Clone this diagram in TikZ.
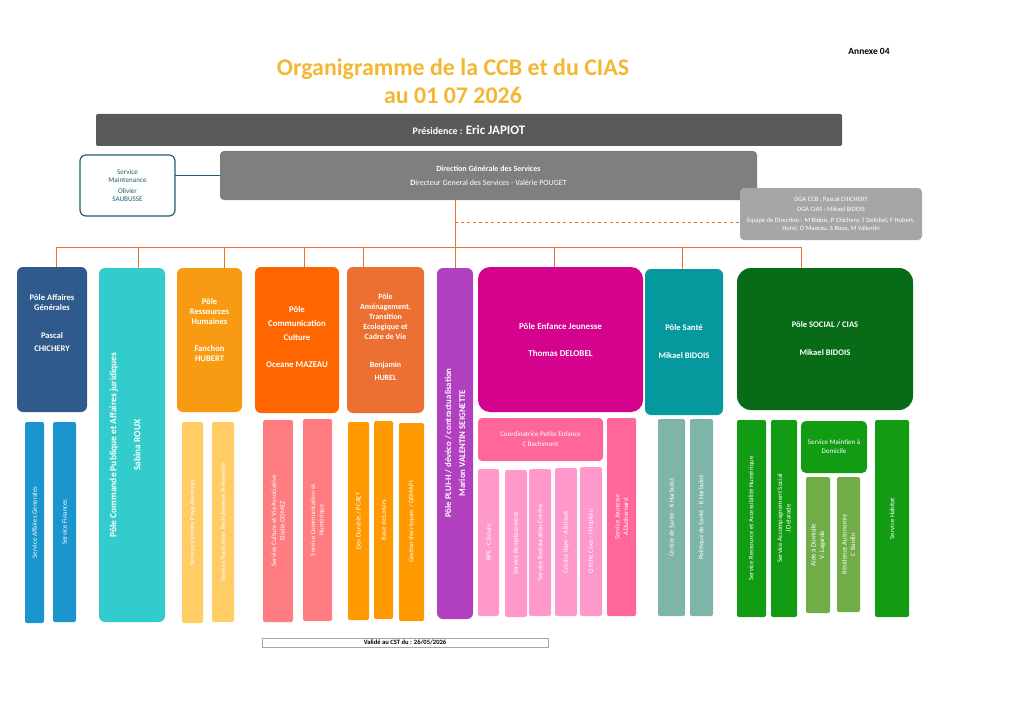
\documentclass[tikz,border=0pt]{standalone}
\usepackage{fontspec}
\setmainfont{Carlito}
\usetikzlibrary{positioning}

% colours
\definecolor{titlegold}{HTML}{F4B731}
\definecolor{presgray}{HTML}{595959}
\definecolor{dgsgray}{HTML}{7F7F7F}
\definecolor{dgagray}{HTML}{A6A6A6}
\definecolor{mainteal}{HTML}{1F5F73}
\definecolor{linkorange}{HTML}{E97132}
\definecolor{agblue}{HTML}{2F5A8C}
\definecolor{agsvc}{HTML}{1B95CD}
\definecolor{cpturq}{HTML}{33CCCC}
\definecolor{rhorange}{HTML}{F99B12}
\definecolor{rhsvc}{HTML}{FFCC66}
\definecolor{comorange}{HTML}{FF6600}
\definecolor{comsvc}{HTML}{FF7C80}
\definecolor{amorange}{HTML}{ED7033}
\definecolor{amsvc}{HTML}{FF9900}
\definecolor{pluipurple}{HTML}{B040C0}
\definecolor{ejmagenta}{HTML}{D4028C}
\definecolor{ejsvc}{HTML}{FF6699}
\definecolor{ejsub}{HTML}{FF99CC}
\definecolor{santeteal}{HTML}{05999E}
\definecolor{santesvc}{HTML}{7FB5A8}
\definecolor{socgreen}{HTML}{076B17}
\definecolor{socsvc}{HTML}{129C14}
\definecolor{socsub}{HTML}{70AD47}

% box from its corners: name, style, x1, y1, x2, y2, text
\newcommand{\orgbox}[7]{%
  \node[#2, minimum width={(#5-#3)*1bp}, minimum height={(#6-#4)*1bp}]
    (#1) at ({(#3+#5)/2},{(#4+#6)/2}) {#7};}

\tikzset{
  cell/.style={inner sep=0pt, outer sep=0pt, fill=#1},
  pole/.style={cell=#1, rounded corners=6bp, text=white, align=center,
    font=\bfseries\fontsize{8.6}{10}\selectfont},
  svc/.style={cell=#1, rounded corners=2bp},
  poletext/.style={text=white, align=center, inner sep=0pt,
    font=\bfseries\fontsize{8.6}{10}\selectfont},
  vtext/.style={rotate=90, text=white, align=center, inner sep=0pt,
    font=\fontsize{6.8}{8.5}\selectfont},
  bigvtext/.style={rotate=90, text=white, align=center, inner sep=0pt,
    font=\bfseries\fontsize{9.5}{12}\selectfont},
  link/.style={draw=linkorange, line width=1bp},
}

\begin{document}
\begin{tikzpicture}[x=1bp, y=-1bp]
  \useasboundingbox[fill=white] (0,0) rectangle (1024,724);

  % heading
  \node[text=titlegold, align=center, font=\bfseries\fontsize{24}{28}\selectfont]
    (title) at (453,81) {Organigramme de la CCB et du CIAS\\au 01 07 2026};
  \node[font=\bfseries\fontsize{9.5}{10}\selectfont] (annexe) at (869,51) {Annexe 04};

  % top of the chart
  \orgbox{pres}{cell=presgray, rounded corners=2bp, text=white,
    font=\bfseries\fontsize{10}{12}\selectfont}{96}{114}{842}{146}
    {Présidence : {\fontsize{13}{15}\selectfont Eric JAPIOT}}
  \orgbox{dgs}{cell=dgsgray, rounded corners=4bp, text=white, align=center,
    font=\fontsize{8}{14}\selectfont}{220}{151}{757}{200}
    {\textbf{Direction Générale des Services}\\\textbf{D}irecteur General des Services - Valérie POUGET}
  \orgbox{maint}{cell=white, draw=mainteal, line width=1.2bp, rounded corners=6bp,
    text=mainteal, align=center, font=\fontsize{7.2}{8.2}\selectfont}{80}{155}{175}{216}
    {Service\\Maintenance\\[3bp]Olivier\\SAUBUSSE}
  \orgbox{dga}{cell=dgagray, rounded corners=4bp, text=white, align=center,
    font=\fontsize{6.6}{10}\selectfont}{740}{188}{922}{240}
    {DGA CCB : Pascal CHICHERY\\DGA CIAS : Mikael BIDOIS\\[1bp]Equipe de Direction : M Bidois, P Chichery, T Delobel, F Hubert,\\[-2.5bp]Hurel, O Mazeau, S Roux, M Valentin}

  % poles
  \orgbox{ag}{pole=agblue}{17}{267}{87}{412}{}
  \orgbox{cp}{pole=cpturq}{99}{268}{165}{622}{}
  \orgbox{rh}{pole=rhorange}{177}{268}{242}{412}{}
  \orgbox{com}{pole=comorange}{255}{267}{339}{413}{}
  \orgbox{am}{pole=amorange}{347}{267}{424}{413}{}
  \orgbox{plui}{pole=pluipurple}{437}{268}{473}{619}{}
  \orgbox{ej}{pole=ejmagenta, rounded corners=12bp,
    font=\bfseries\fontsize{9}{10}\selectfont}{478}{267}{643}{412}
    {Pôle Enfance Jeunesse\\[17bp]Thomas DELOBEL}
  \orgbox{sante}{pole=santeteal}{645}{269}{723}{415}
    {Pôle Santé\\[18bp]Mikael BIDOIS}
  \orgbox{soc}{pole=socgreen, rounded corners=14bp}{737}{268}{913}{410}
    {Pôle SOCIAL / CIAS\\[18bp]Mikael BIDOIS}

  \node[poletext, below=27bp of ag.north] (agt)
    {Pôle Affaires\\Générales\\[18bp]Pascal\\[3bp]CHICHERY};
  \node[poletext, below=30bp of rh.north] (rht)
    {Pôle\\Ressources\\Humaines\\[17bp]Fanchon\\HUBERT};
  \node[poletext, below=39bp of com.north, font=\bfseries\fontsize{8.8}{14}\selectfont] (comt)
    {Pôle\\Communication\\Culture\\[13bp]Oceane MAZEAU};
  \node[poletext, below=27bp of am.north, font=\bfseries\fontsize{8}{10}\selectfont] (amt)
    {Pôle\\Aménagement,\\Transition\\Ecologique et\\Cadre de Vie\\[18bp]Benjamin\\[3bp]HUREL};
  \node[bigvtext] (cpt) at (125,445)
    {Pôle Commande Publique et Affaires juridiques\\[12bp]Sabina ROUX};
  \node[bigvtext, font=\bfseries\fontsize{8.8}{14}\selectfont] (pluit) at (455,443)
    {Pôle PLUI-H / dévéco / contractualisation\\Marion VALENTIN SEIGNETTE};

  % links
  \coordinate (tap) at (455,222);
  \coordinate (dag) at (56,247);
  \coordinate (dcp) at (138,247);
  \coordinate (drh) at (224,247);
  \coordinate (dcom) at (304,247);
  \coordinate (dam) at (363,247);
  \coordinate (dplui) at (455,247);
  \coordinate (dej) at (554,247);
  \coordinate (dsante) at (682,247);
  \coordinate (dsoc) at (801,247);
  \draw[link] (tap |- dgs.south) -- (dplui);
  \draw[link, dashed] (tap) -- (tap -| dga.west);
  \draw[link] (dag) -- (dsoc);
  \draw[link] (dag) -- (dag |- ag.north);
  \draw[link] (dcp) -- (dcp |- cp.north);
  \draw[link] (drh) -- (drh |- rh.north);
  \draw[link] (dcom) -- (dcom |- com.north);
  \draw[link] (dam) -- (dam |- am.north);
  \draw[link] (dplui) -- (dplui |- plui.north);
  \draw[link] (dej) -- (dej |- ej.north);
  \draw[link] (dsante) -- (dsante |- sante.north);
  \draw[link] (dsoc) -- (dsoc |- soc.north);
  \draw[draw=mainteal, line width=1bp] (dgs.west) -- (dgs.west -| maint.east);

  % services
  \orgbox{sag1}{svc=agsvc}{25}{422}{44}{623}{}
  \orgbox{sag2}{svc=agsvc}{53}{422}{76}{622}{}
  \orgbox{srh1}{svc=rhsvc}{182}{422}{203}{623}{}
  \orgbox{srh2}{svc=rhsvc}{212}{422}{234}{622}{}
  \orgbox{scom1}{svc=comsvc}{263}{420}{293}{622}{}
  \orgbox{scom2}{svc=comsvc}{303}{419}{332}{621}{}
  \orgbox{sam1}{svc=amsvc}{348}{422}{369}{620}{}
  \orgbox{sam2}{svc=amsvc}{374}{421}{393}{619}{}
  \orgbox{sam3}{svc=amsvc}{399}{423}{424}{621}{}
  \orgbox{coord}{svc=ejsvc, rounded corners=4bp, text=white, align=center,
    font=\fontsize{7}{10}\selectfont}{478}{418}{603}{461}
    {Coordinatrice Petite Enfance\\C Bachimont}
  \orgbox{sjeu}{svc=ejsvc}{607}{418}{636}{616}{}
  \orgbox{sej1}{svc=ejsub}{478}{469}{499}{616}{}
  \orgbox{sej2}{svc=ejsub}{505}{470}{527}{617}{}
  \orgbox{sej3}{svc=ejsub}{529}{469}{551}{616}{}
  \orgbox{sej4}{svc=ejsub}{555}{468}{577}{616}{}
  \orgbox{sej5}{svc=ejsub}{580}{467}{602}{616}{}
  \orgbox{ss1}{svc=santesvc}{658}{419}{685}{616}{}
  \orgbox{ss2}{svc=santesvc}{690}{419}{713}{616}{}
  \orgbox{ssoc1}{svc=socsvc}{737}{420}{766}{617}{}
  \orgbox{ssoc2}{svc=socsvc}{771}{420}{797}{617}{}
  \orgbox{smad}{svc=socsvc, rounded corners=5bp, text=white, align=center,
    font=\fontsize{7}{9}\selectfont}{801}{421}{867}{473}
    {Service Maintien à\\Domicile}
  \orgbox{smad1}{svc=socsub}{806}{477}{830}{613}{}
  \orgbox{smad2}{svc=socsub}{837}{477}{860}{612}{}
  \orgbox{shab}{svc=socsvc}{875}{420}{909}{617}{}

  \node[vtext] (sag1t) at (sag1) {Service Affaires Generales};
  \node[vtext] (sag2t) at (sag2) {Service Finances};
  \node[vtext] (srh1t) at (srh1) {Service Carrière Paye Absences};
  \node[vtext] (srh2t) at (srh2) {Service Formation Recrutement Prévention};
  \node[vtext] (scom1t) at (scom1) {Service Culture et Vie Associative\\Elodie GOMEZ};
  \node[vtext] (scom2t) at (scom2) {Service Communication et\\Numérique};
  \node[vtext] (sam1t) at (sam1) {Dev Durable / PCAET};
  \node[vtext] (sam2t) at (sam2) {Base de Loisirs};
  \node[vtext] (sam3t) at (sam3) {Gestion des risques / GEMAPI};
  \node[vtext] (sjeut) at (sjeu) {Service Jeunesse\\A Duthernard};
  \node[vtext] (sej1t) at (sej1) {RPE - C Bouin};
  \node[vtext] (sej2t) at (sej2) {Service Remplacement};
  \node[vtext] (sej3t) at (sej3) {Service Restauration Crèche};
  \node[vtext] (sej4t) at (sej4) {Crèche Ilaye - A Brisset};
  \node[vtext] (sej5t) at (sej5) {Crèche Coco - I Hopitau};
  \node[vtext] (ss1t) at (ss1) {Centre de Santé - K Harbulot};
  \node[vtext] (ss2t) at (ss2) {Politique de Santé - K Harbulot};
  \node[vtext] (ssoc1t) at (ssoc1) {Service Ressource et Accessibilité Numérique};
  \node[vtext] (ssoc2t) at (ssoc2) {Service Accompagnement Social\\J Delarade};
  \node[vtext] (smad1t) at (smad1) {Aide à Domicile\\V. Lagarde};
  \node[vtext] (smad2t) at (smad2) {Résidence Autonomie\\C Bardin};
  \node[vtext] (shabt) at (shab) {Service Habitat};

  % footer
  \orgbox{valid}{cell=white, draw=gray!70, line width=0.5bp,
    font=\bfseries\fontsize{6.6}{7}\selectfont}{262}{638}{548}{647}
    {Validé au CST du : 26/05/2026}
\end{tikzpicture}
\end{document}
